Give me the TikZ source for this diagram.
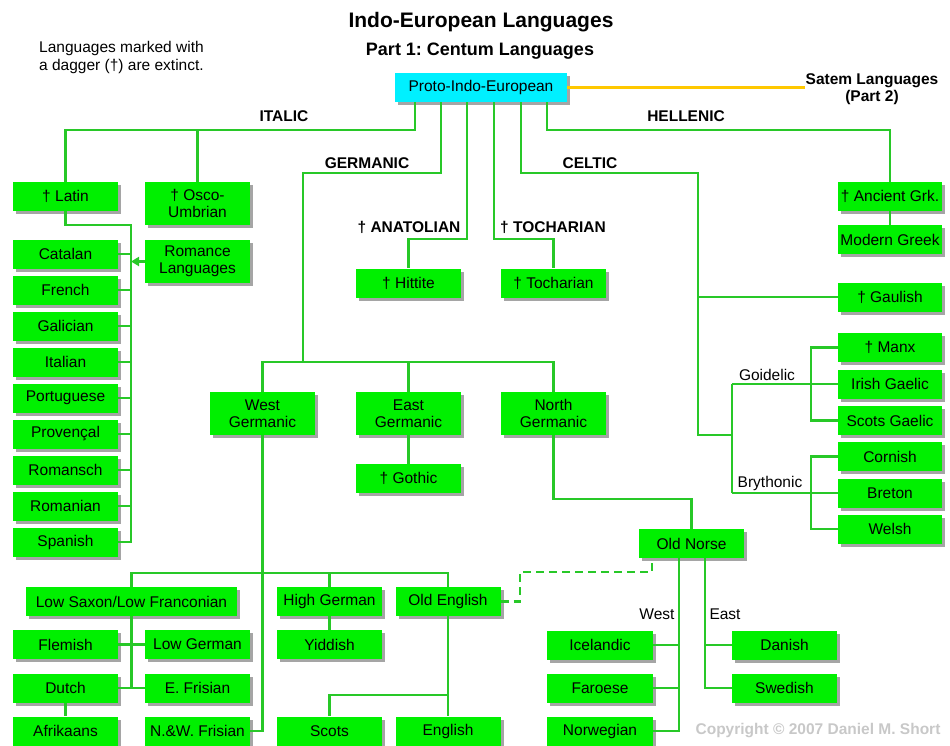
\documentclass[tikz,border=0pt]{standalone}
\usepackage{fontspec}
\setmainfont{Liberation Sans}
\usepackage{tikz}
\usetikzlibrary{shadows,arrows.meta}
\definecolor{boxgreen}{RGB}{0,240,0}
\definecolor{linegreen}{RGB}{40,200,40}
\definecolor{protocyan}{RGB}{0,240,255}
\definecolor{satemorange}{RGB}{255,200,0}
\definecolor{shadowgray}{RGB}{165,165,165}
\definecolor{copygray}{RGB}{200,200,200}
\frenchspacing

\begin{document}
\begin{tikzpicture}[x=1pt, y=-1pt]

\tikzstyle{every node} = [inner sep=0pt, font=\fontsize{15.5}{17}\selectfont]
\tikzstyle{lang} = [rectangle, fill=boxgreen, minimum width=105pt, minimum height=29pt, align=center, drop shadow={shadow xshift=3pt, shadow yshift=-3pt, fill=shadowgray, opacity=1}]
\tikzstyle{twoline} = [lang, minimum height=43pt]
\tikzstyle{branch} = [font=\bfseries\fontsize{15.5}{17}\selectfont, align=center]
\tikzstyle{link} = [draw=linegreen, line width=2.5pt]

\useasboundingbox (0,0) rectangle (950,745);

\node[font=\bfseries\fontsize{21}{24}\selectfont] (title) at (481,22) {Indo-European Languages};
\node[font=\bfseries\fontsize{18}{20}\selectfont] (subtitle) at (480,51) {Part 1: Centum Languages};
\node[anchor=west, align=left, font=\fontsize{15.5}{18}\selectfont] (note) at (39,57) {Languages marked with\\a dagger (\dag) are extinct.};

\node[lang, fill=protocyan, minimum width=172pt] (pie) at (481,87.5) {Proto-Indo-European};
\node[branch] (satem) at (872,89) {Satem Languages\\(Part 2)};

\node[branch] (italic) at (284,116) {ITALIC};
\node[branch] (germanic) at (367,163) {GERMANIC};
\node[branch] (anatolian) at (409,227) {\dag\ ANATOLIAN};
\node[branch] (tocharianlbl) at (553,227) {\dag\ TOCHARIAN};
\node[branch] (celtic) at (590,163) {CELTIC};
\node[branch] (hellenic) at (686,116) {HELLENIC};

\node[lang] (latin) at (65.5,196.5) {\dag\ Latin};
\node[twoline] (osco) at (197.5,203.5) {\dag\ Osco-\\Umbrian};
\node[twoline] (romance) at (197.5,261.5) {Romance\\Languages};
\node[lang] (catalan) at (65.5,254) {Catalan};
\node[lang] (french) at (65.5,290) {French};
\node[lang] (galician) at (65.5,326) {Galician};
\node[lang] (italian) at (65.5,362) {Italian};
\node[lang] (portuguese) at (65.5,398) {Portuguese};
\node[lang] (provencal) at (65.5,434) {Provençal};
\node[lang] (romansch) at (65.5,470) {Romansch};
\node[lang] (romanian) at (65.5,506) {Romanian};
\node[lang] (spanish) at (65.5,542) {Spanish};

\node[lang] (hittite) at (408.5,283) {\dag\ Hittite};
\node[lang] (tocharian) at (553.5,283) {\dag\ Tocharian};

\node[twoline] (wgerm) at (262.5,413.5) {West\\Germanic};
\node[twoline] (egerm) at (408.5,413.5) {East\\Germanic};
\node[twoline] (ngerm) at (553.5,413.5) {North\\Germanic};
\node[lang] (gothic) at (408.5,478.5) {\dag\ Gothic};
\node[lang] (oldnorse) at (691.5,543.5) {Old Norse};

\node[lang, minimum width=211pt] (lowsaxon) at (131.5,601.5) {Low Saxon/Low Franconian};
\node[lang] (highgerman) at (329.5,601.5) {High German};
\node[lang] (oldenglish) at (448,601.5) {Old English};
\node[lang] (flemish) at (65.5,644.5) {Flemish};
\node[lang] (lowgerman) at (197.5,644.5) {Low German};
\node[lang] (yiddish) at (329.5,644.5) {Yiddish};
\node[lang] (dutch) at (65.5,688) {Dutch};
\node[lang] (efrisian) at (197.5,688) {E. Frisian};
\node[lang] (afrikaans) at (65.5,731) {Afrikaans};
\node[lang] (nwfrisian) at (197.5,731) {N.\&W. Frisian};
\node[lang] (scots) at (329.5,731) {Scots};
\node[lang] (english) at (448,731) {English};

\node[lang, minimum width=106pt] (icelandic) at (600,645) {Icelandic};
\node[lang, minimum width=106pt] (faroese) at (600,688) {Faroese};
\node[lang, minimum width=106pt] (norwegian) at (600,731) {Norwegian};
\node[lang] (danish) at (784.5,645) {Danish};
\node[lang] (swedish) at (784.5,688) {Swedish};
\node (west) at (657,614) {West};
\node (east) at (725,614) {East};

\node[lang, minimum width=104pt] (agreek) at (890,196.5) {\dag\ Ancient Grk.};
\node[lang, minimum width=104pt] (mgreek) at (890,239.5) {Modern Greek};
\node[lang, minimum width=104pt] (gaulish) at (890,297) {\dag\ Gaulish};
\node[lang, minimum width=104pt] (manx) at (890,347.5) {\dag\ Manx};
\node[lang, minimum width=104pt] (irish) at (890,384) {Irish Gaelic};
\node[lang, minimum width=104pt] (scotsg) at (890,420.5) {Scots Gaelic};
\node[lang, minimum width=104pt] (cornish) at (890,456.5) {Cornish};
\node[lang, minimum width=104pt] (breton) at (890,493) {Breton};
\node[lang, minimum width=104pt] (welsh) at (890,529) {Welsh};
\node (goidelic) at (767,375) {Goidelic};
\node (brythonic) at (770,483) {Brythonic};

\node[font=\bfseries\fontsize{15.5}{17}\selectfont, text=copygray] (copy) at (818,731) {Copyright \textcopyright\ 2007 Daniel M. Short};

\coordinate (itj) at (415,130);
\coordinate (gej) at (441,173);
\coordinate (gbus) at (303,362);
\coordinate (anj) at (467,239);
\coordinate (toj) at (494,239);
\coordinate (cej) at (521,173);
\coordinate (cebus) at (698,435);
\coordinate (goid) at (732,384);
\coordinate (bryth) at (732,493);
\coordinate (gcol) at (811,384);
\coordinate (bcol) at (811,493);
\coordinate (hej) at (547,130);
\coordinate (rbus) at (131,225);
\coordinate (wbus) at (263,573);
\coordinate (oej) at (448,695);
\coordinate (noj) at (620,499);
\coordinate (dsh) at (520,572);
\coordinate (dsh2) at (652,572);
\coordinate (wcol) at (679,614);
\coordinate (ecol) at (705,614);

\draw[draw=satemorange, line width=2.5pt] (pie.east) -- (pie.east -| satem.west);

\draw[link] (pie.south -| itj) -- (itj) -| (latin);
\draw[link] (itj -| osco) -- (osco);
\draw[link] (latin) |- (rbus) -- (rbus |- spanish) -- (spanish);
\draw[link] (catalan) -- (catalan -| rbus);
\draw[link] (french) -- (french -| rbus);
\draw[link] (galician) -- (galician -| rbus);
\draw[link] (italian) -- (italian -| rbus);
\draw[link] (portuguese) -- (portuguese -| rbus);
\draw[link] (provencal) -- (provencal -| rbus);
\draw[link] (romansch) -- (romansch -| rbus);
\draw[link] (romanian) -- (romanian -| rbus);
\draw[link, -{Triangle[length=8pt, width=9pt]}, fill=linegreen] (romance) -- (romance -| rbus);

\draw[link] (pie.south -| gej) -- (gej) -| (gbus);
\draw[link] (wgerm) |- (gbus) -| (ngerm);
\draw[link] (egerm) -- (egerm |- gbus);
\draw[link] (egerm) -- (gothic);
\draw[link] (pie.south -| anj) -- (anj) -| (hittite);
\draw[link] (pie.south -| toj) -- (toj) -| (tocharian);

\draw[link] (wgerm) |- (nwfrisian);
\draw[link] (lowsaxon) |- (wbus) -| (oldenglish);
\draw[link] (highgerman) -- (highgerman |- wbus);
\draw[link] (highgerman) -- (yiddish);
\draw[link] (lowsaxon) -- (lowsaxon |- dutch);
\draw[link] (flemish) -- (lowgerman);
\draw[link] (dutch) -- (efrisian);
\draw[link] (dutch) -- (afrikaans);
\draw[link] (oldenglish) -- (english);
\draw[link] (oej) -| (scots);
\draw[link, dash pattern=on 8pt off 5pt] (oldenglish) -| (dsh) -- (dsh2) -- (dsh2 |- oldnorse.south);

\draw[link] (ngerm) |- (noj) -| (oldnorse);
\draw[link] (oldnorse.south -| wcol) |- (norwegian);
\draw[link] (icelandic) -- (icelandic -| wcol);
\draw[link] (faroese) -- (faroese -| wcol);
\draw[link] (oldnorse.south -| ecol) |- (swedish);
\draw[link] (danish) -- (danish -| ecol);

\draw[link] (pie.south -| cej) -- (cej) -| (cebus) -- (cebus -| goid);
\draw[link] (cebus |- gaulish) -- (gaulish);
\draw[link] (goid) -- (bryth);
\draw[link] (goid) -- (irish);
\draw[link] (bryth) -- (breton);
\draw[link] (manx) -| (gcol) |- (scotsg);
\draw[link] (cornish) -| (bcol) |- (welsh);

\draw[link] (pie.south -| hej) -- (hej) -| (agreek);
\draw[link] (agreek) -- (mgreek);

\end{tikzpicture}
\end{document}
